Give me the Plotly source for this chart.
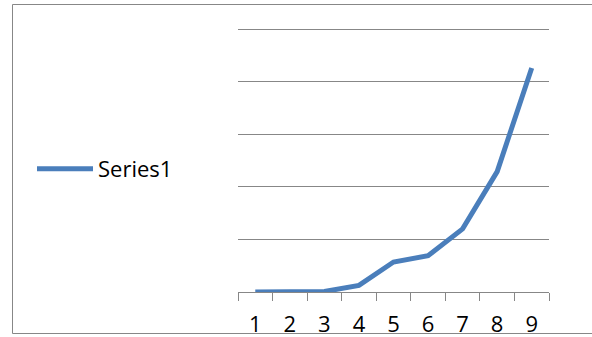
import plotly.graph_objects as go

# Data
categories = ["1", "2", "3", "4", "5", "6", "7", "8", "9"]
series1 = [0, 0.1, 0.2, 2.5, 11.4, 13.8, 24.0, 45.8, 85.2]

W, H = 592, 337
ML, MR, MT, MB = 238, 43, 16, 45
plot_w = W - ML - MR
plot_h = H - MT - MB
Y_MAX = 105


def px_to_paper_x(px):
    return (px - ML) / plot_w


def px_to_paper_y(py):
    return (H - MB - py) / plot_h


GRID = "#878787"
BLUE = "#4A7EBB"
FONT = "Open Sans"

fig = go.Figure()
fig.add_trace(go.Scatter(
    x=categories,
    y=series1,
    mode="lines",
    name="Series1",
    line=dict(color=BLUE, width=5),
))

fig.update_layout(
    width=W,
    height=H,
    margin=dict(l=ML, r=MR, t=MT, b=MB, autoexpand=False),
    paper_bgcolor="white",
    plot_bgcolor="white",
    showlegend=True,
    legend=dict(
        x=px_to_paper_x(32),
        xanchor="left",
        y=px_to_paper_y(169),
        yanchor="middle",
        font=dict(family=FONT, size=22, color="#000000"),
        bgcolor="rgba(0,0,0,0)",
        itemwidth=56,
    ),
    xaxis=dict(
        type="category",
        range=[-0.5, 8.5],
        automargin=False,
        showgrid=False,
        showline=True,
        linecolor=GRID,
        linewidth=1,
        ticks="outside",
        tickson="boundaries",
        ticklen=8,
        tickcolor=GRID,
        tickwidth=1,
        ticklabelstandoff=13,
        tickfont=dict(family=FONT, size=22, color="#000000"),
        zeroline=False,
    ),
    yaxis=dict(
        range=[0, Y_MAX],
        automargin=False,
        tickvals=[20, 40, 60, 80, 100],
        showgrid=True,
        gridcolor=GRID,
        gridwidth=1.2,
        showticklabels=False,
        showline=False,
        zeroline=False,
        ticks="",
    ),
    shapes=[
        dict(
            type="rect",
            xref="paper",
            yref="paper",
            x0=px_to_paper_x(12.5),
            x1=px_to_paper_x(620),
            y0=px_to_paper_y(333.5),
            y1=px_to_paper_y(4.5),
            line=dict(color=GRID, width=1),
            fillcolor="rgba(0,0,0,0)",
            layer="below",
        )
    ],
)

fig.write_html("out.html")
